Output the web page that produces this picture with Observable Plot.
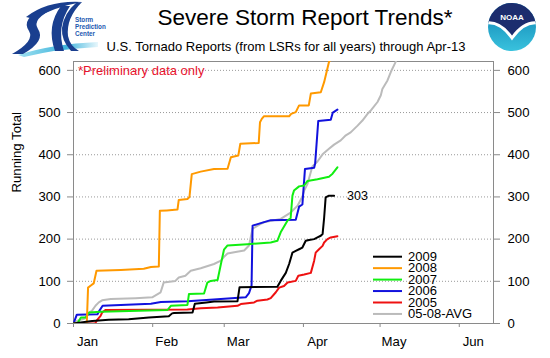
<!DOCTYPE html>
<html><head><meta charset="utf-8">
<script src="https://cdn.jsdelivr.net/npm/d3@7"></script>
<script src="https://cdn.jsdelivr.net/npm/@observablehq/plot@0.6"></script>
<style>
body{margin:0;background:#fff;font-family:"Liberation Sans",Arial,Helvetica,sans-serif;}
#wrap{position:relative;width:550px;height:358px;overflow:hidden;background:#fff;}
#chart{position:absolute;left:0;top:0;}
#overlay{position:absolute;left:0;top:0;pointer-events:none;}
</style></head>
<body><div id="wrap"><div id="chart"></div>
<svg id="overlay" width="550" height="358" font-family="Liberation Sans, Arial, sans-serif"></svg>
</div>
<script>
// ---- data (day offsets from Jan 1, running totals) ----
const seriesNames = ["2009", "2008", "2007", "2006", "2005", "05-08-AVG"];
const seriesColors = ["#000000", "#ff9900", "#11ee11", "#1111dd", "#ee1111", "#bbbbbb"];

const days2009 = [0, 2.1, 7.3, 13.8, 21.6, 29.5, 37.3, 38.6, 39.4, 46.6, 47.5, 52, 55, 64.2, 65.0, 79.8, 81.1, 83.1, 84.4, 85.7, 87.0, 88.3, 89.6, 90.9, 92.2, 94.2, 95.5, 96.8, 97.5, 98.1, 98.7, 100.0, 102.0];
const vals2009 = [0, 2, 6, 9, 10, 14, 17, 24, 25, 26, 47, 50, 52, 53, 86, 87, 101, 120, 141, 168, 172, 176, 180, 196, 198, 200, 204, 208, 212, 250, 299, 303, 303];

const days2008 = [0, 5.2, 5.7, 6.8, 7.9, 9.0, 18.5, 27.5, 30.3, 33.4, 33.8, 36.5, 40.7, 41.2, 44.6, 45.4, 46.3, 49.8, 55.0, 60.3, 61.6, 64.5, 65.3, 72.5, 73.0, 73.7, 74.5, 84.4, 85.2, 87.0, 88.3, 92.1, 92.9, 96.8, 98.1, 100.0, 103.3];
const vals2008 = [0, 0, 85, 90, 95, 125, 127, 130, 134, 135, 267, 268, 270, 293, 295, 300, 354, 360, 366, 367, 394, 398, 426, 428, 477, 485, 491, 491, 497, 501, 517, 517, 545, 548, 572, 620, 650];

const days2007 = [0, 1.5, 2.9, 4.8, 6.1, 10.7, 36.8, 38.1, 44.6, 45.2, 51.1, 52.4, 53.7, 56.4, 57.7, 58.9, 60.3, 68.1, 77.2, 79.8, 81.1, 83.8, 85.0, 85.7, 86.3, 88.3, 90.3, 91.6, 95.5, 100.0, 101.4, 103.3];
const vals2007 = [0, 0, 14, 14, 26, 28, 32, 42, 44, 70, 71, 97, 101, 103, 141, 175, 185, 188, 192, 196, 216, 244, 250, 303, 315, 325, 327, 338, 342, 348, 355, 370];

const days2006 = [0, 1.3, 9.4, 10.1, 11.4, 30.3, 34.2, 44.6, 54.9, 67.4, 68.7, 69.7, 70.1, 73.3, 77.2, 87.0, 88.3, 89.6, 90.6, 94.2, 94.6, 95.8, 100.7, 101.5, 103.3];
const vals2006 = [0, 21, 22, 30, 42, 47, 51, 53, 57, 62, 72, 90, 232, 238, 245, 246, 277, 282, 366, 369, 380, 480, 483, 500, 507];

const days2005 = [0, 8.5, 9.2, 10.6, 11.2, 12.5, 44.6, 49.8, 56.4, 64.2, 65.5, 70.7, 72.0, 75.9, 77.2, 79.2, 80.5, 82.4, 83.8, 87.0, 88.0, 90.3, 92.9, 94.2, 94.8, 96.1, 97.5, 98.1, 99.4, 100.7, 103.3];
const vals2005 = [0, 0, 8, 18, 26, 32, 33, 36, 38, 42, 46, 50, 54, 57, 60, 74, 85, 89, 97, 101, 113, 116, 120, 149, 168, 176, 184, 192, 200, 204, 207];

const daysAvg = [0, 1.3, 4.4, 5.2, 6.0, 7.2, 8.6, 9.9, 11.2, 14.6, 24.3, 30.8, 34.1, 35.3, 39.9, 41.2, 43.8, 45.9, 49.8, 55.0, 57.7, 58.9, 60.3, 62.9, 66.8, 68.7, 70.1, 73.3, 74.6, 81.1, 85.0, 87.7, 89.6, 90.3, 91.6, 93.5, 95.5, 97.5, 100.0, 102.0, 104.6, 106.6, 108.5, 111.2, 113.1, 115.1, 116.4, 119.0, 120.3, 120.9, 122.9, 124.2, 126.1, 128.1];
const valsAvg = [0, 6, 12, 18, 26, 30, 42, 50, 55, 58, 60, 62, 74, 97, 101, 109, 113, 125, 131, 141, 149, 158, 166, 169, 173, 185, 225, 236, 240, 248, 263, 279, 301, 315, 331, 372, 384, 401, 414, 424, 434, 446, 453, 469, 481, 497, 505, 525, 541, 556, 576, 596, 620, 645];

const yTicks = [0, 100, 200, 300, 400, 500, 600];
const gridTicks = [100, 200, 300, 400, 500, 600];
const monthLabels = ["Jan", "Feb", "Mar", "Apr", "May", "Jun"];

// ---- build ----
const start = Date.UTC(2009, 0, 1);
const toDate = d => new Date(start + d * 864e5);
const monthDates = monthLabels.map((m, i) => new Date(Date.UTC(2009, i, 1)));

const dayArrays = [days2009, days2008, days2007, days2006, days2005, daysAvg];
const valArrays = [vals2009, vals2008, vals2007, vals2006, vals2005, valsAvg];
const series = seriesNames.map((name, k) => ({
  name, color: seriesColors[k],
  rows: dayArrays[k].map((d, i) => ({date: toDate(d), value: valArrays[k][i]}))
}));
const drawOrder = [5, 4, 3, 2, 1, 0];
const last2009 = series[0].rows[series[0].rows.length - 1];

const chart = Plot.plot({
  width: 550, height: 358,
  marginTop: 61, marginBottom: 35, marginLeft: 73, marginRight: 57,
  x: {type: "utc", domain: [toDate(0), toDate(164.4)]},
  y: {domain: [0, 621]},
  style: {fontFamily: "Liberation Sans, Arial, sans-serif", fontSize: "13.2px", color: "black", background: "transparent"},
  marks: [
    Plot.gridY({ticks: gridTicks, stroke: "#999", strokeOpacity: 1, strokeDasharray: "1,2"}),
    Plot.frame({stroke: "#8a8a8a"}),
    Plot.axisY({ticks: yTicks, anchor: "left", tickSize: 6, tickPadding: 7, stroke: "#8a8a8a", fill: "black", label: null}),
    Plot.axisY({ticks: yTicks, anchor: "right", tickSize: 6, tickPadding: 8, stroke: "#8a8a8a", fill: "black", label: null}),
    Plot.axisX({ticks: monthDates, tickSize: 4, stroke: "#8a8a8a", tickFormat: () => "", label: null}),
    Plot.axisX({ticks: monthDates, tickSize: 0, tickPadding: 13.4, dx: 14, fill: "black", tickFormat: (d, i) => monthLabels[i], label: null}),
    ...drawOrder.map(k => Plot.line(series[k].rows, {x: "date", y: "value", stroke: series[k].color, strokeWidth: 2, clip: true})),
    Plot.text([last2009], {x: "date", y: "value", text: d => String(d.value), dx: 13, textAnchor: "start", fontSize: 12.5, fill: "black"}),
    Plot.text(["*Preliminary data only"], {frameAnchor: "top-left", dx: 4.5, dy: 4.5, lineAnchor: "top", textAnchor: "start", fill: "#e8132e", fontSize: 13}),
    Plot.text(["Running Total"], {frameAnchor: "left", rotate: -90, dx: -57, fontSize: 13.2, fill: "black"})
  ]
});
document.getElementById("chart").appendChild(chart);

// ---- overlay: header, logos, legend ----
const ns = "http://www.w3.org/2000/svg";
const ov = document.getElementById("overlay");
ov.innerHTML = `
<defs>
  <linearGradient id="band" x1="0" y1="0" x2="1" y2="0">
    <stop offset="0" stop-color="#9fe0f0"/><stop offset="0.6" stop-color="#3fb4dc"/><stop offset="1" stop-color="#e8f7fc"/>
  </linearGradient>
  <linearGradient id="noaaLow" x1="0" y1="0" x2="0" y2="1">
    <stop offset="0" stop-color="#0b7fb0"/><stop offset="1" stop-color="#3cc6e0"/>
  </linearGradient>
  <clipPath id="noaaClip"><circle cx="512" cy="27" r="24"/></clipPath>
</defs>
<g>
  <path d="M18,55 Q52,44 98,42 L98,47 Q56,49 24,57 Z" fill="url(#band)"/>
  <path d="M26,17 Q48,0 82,2 Q54,7 34,19 Z" fill="#1a3f8f"/>
  <path d="M47,7 Q20,18 29,31 Q35,41 12,54 L23,54 Q46,41 38,29 Q31,19 55,8 Z" fill="#1a3f8f"/>
  <path d="M61,6 Q46,26 55,51 L64,51 Q56,27 70,6 Z" fill="#1a3f8f"/>
  <path d="M82,2 Q66,18 68,36 Q70,46 79,51 L71,51 Q61,40 62,28 Q64,13 76,3 Z" fill="#1a3f8f"/>
  <text x="75" y="22" font-size="6.3" font-weight="bold" fill="#2257b0">Storm</text>
  <text x="75" y="29" font-size="6.3" font-weight="bold" fill="#2257b0">Prediction</text>
  <text x="75" y="36" font-size="6.3" font-weight="bold" fill="#2257b0">Center</text>
</g>
<g clip-path="url(#noaaClip)">
  <rect x="486" y="2" width="52" height="52" fill="url(#noaaLow)"/>
  <path d="M486,2 H538 V23 Q524,21 512,38 Q500,21 486,23 Z" fill="#1c2d6e"/>
  <path d="M486,23 Q500,21 512,38 Q524,21 538,23" stroke="#ffffff" stroke-width="3" fill="none"/>
</g>
<text x="512" y="20" font-size="8" font-weight="bold" fill="#ffffff" text-anchor="middle">NOAA</text>
<text x="305" y="25" font-size="22.5" text-anchor="middle" fill="#000">Severe Storm Report Trends*</text>
<text x="286" y="51" font-size="13" text-anchor="middle" fill="#000">U.S. Tornado Reports (from LSRs for all years) through Apr-13</text>
`;
seriesNames.forEach((name, i) => {
  const yy = 256.7 + i * 11.45;
  const ln = document.createElementNS(ns, "line");
  ln.setAttribute("x1", 373); ln.setAttribute("x2", 402);
  ln.setAttribute("y1", yy); ln.setAttribute("y2", yy);
  ln.setAttribute("stroke", seriesColors[i]); ln.setAttribute("stroke-width", 2);
  ov.appendChild(ln);
  const tx = document.createElementNS(ns, "text");
  tx.setAttribute("x", 408); tx.setAttribute("y", yy + 4.3);
  tx.setAttribute("font-size", 13); tx.setAttribute("fill", "#000");
  tx.textContent = name;
  ov.appendChild(tx);
});
</script>
</body></html>
